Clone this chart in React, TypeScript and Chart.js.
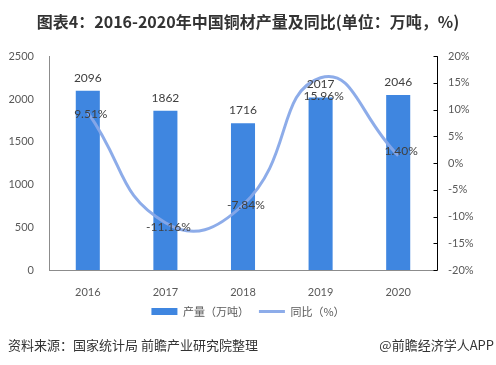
import { useEffect, useRef } from "react";
import { Chart, registerables } from "chart.js";

Chart.register(...registerables);

const categories = ["2016", "2017", "2018", "2019", "2020"];
const outputValues = [2096, 1862, 1716, 2017, 2046];
const yoyValues = [9.51, -11.16, -7.84, 15.96, 1.4];
const yoyLabels = ["9.51%", "-11.16%", "-7.84%", "15.96%", "1.40%"];
const yoyLabelDy = [2, 4, 0, 18, -4];
const titleText = "图表4：2016-2020年中国铜材产量及同比(单位：万吨，%)";
const sourceText = "资料来源：国家统计局 前瞻产业研究院整理";
const brandText = "@前瞻经济学人APP";

const CJK = "'Noto Sans CJK SC', 'Noto Sans', sans-serif";
const NUM = "Lato, 'Noto Sans CJK SC', sans-serif";

const labelsPlugin = {
  id: "valueLabels",
  afterDatasetsDraw(chart: any) {
    const ctx = chart.ctx;
    ctx.save();
    ctx.textAlign = "center";
    ctx.textBaseline = "middle";
    ctx.fillStyle = "#404040";
    ctx.font = `12px ${NUM}`;
    const barMeta = chart.getDatasetMeta(0);
    barMeta.data.forEach((el: any, i: number) => {
      ctx.fillText(String(outputValues[i]), el.x, el.y - 13);
    });
    const lineMeta = chart.getDatasetMeta(1);
    lineMeta.data.forEach((el: any, i: number) => {
      ctx.fillText(yoyLabels[i], el.x + 3, el.y + yoyLabelDy[i]);
    });
    ctx.restore();
  },
  afterDraw(chart: any) {
    const ctx = chart.ctx;
    const s = chart.scales.y1;
    ctx.save();
    ctx.strokeStyle = "#000000";
    ctx.lineWidth = 1;
    const x = Math.round(s.left) + 0.5;
    ctx.beginPath();
    ctx.moveTo(x, s.top);
    ctx.lineTo(x, s.bottom);
    s.ticks.forEach((t: any) => {
      const y = Math.round(s.getPixelForValue(t.value)) + 0.5;
      ctx.moveTo(x - 4, y);
      ctx.lineTo(x, y);
    });
    ctx.stroke();
    ctx.fillStyle = "#333333";
    ctx.font = `13px ${CJK}`;
    ctx.textBaseline = "middle";
    ctx.textAlign = "left";
    ctx.fillText(sourceText, 8, 345);
    ctx.textAlign = "right";
    ctx.fillText(brandText, 494, 345);
    ctx.restore();
  },
};

export default function App() {
  const ref = useRef<HTMLCanvasElement | null>(null);
  useEffect(() => {
    if (!ref.current) return;
    const chart = new Chart(ref.current, {
      type: "bar",
      data: {
        labels: categories,
        datasets: [
          {
            type: "bar",
            label: "产量（万吨）",
            data: outputValues,
            backgroundColor: "#3f86e0",
            borderColor: "#3f86e0",
            borderWidth: 0,
            yAxisID: "y",
            order: 1,
            barPercentage: 0.31,
            categoryPercentage: 1,
          } as any,
          {
            type: "line",
            label: "同比（%）",
            data: yoyValues,
            borderColor: "rgba(135,168,232,0.95)",
            backgroundColor: "rgba(135,168,232,0.95)",
            borderWidth: 3,
            tension: 0.5,
            pointRadius: 0,
            yAxisID: "y1",
            order: 0,
          } as any,
        ],
      },
      options: {
        responsive: false,
        animation: false,
        layout: { padding: { top: 0, bottom: 38, left: 0, right: 0 } },
        plugins: {
          title: {
            display: true,
            text: titleText,
            color: "#333333",
            font: { size: 16, weight: "bold", family: CJK },
            padding: { top: 12, bottom: 25 },
          },
          legend: {
            position: "bottom",
            labels: {
              color: "#595959",
              font: { size: 11, family: CJK },
              boxWidth: 26,
              boxHeight: 7,
              usePointStyle: true,
              pointStyleWidth: 26,
              padding: 10,
              sort: (a: any, b: any) => a.datasetIndex - b.datasetIndex,
              generateLabels(chart: any) {
                const items = Chart.defaults.plugins.legend.labels.generateLabels(chart);
                return items.map((it: any) => {
                  const isBar = it.datasetIndex === 0;
                  return {
                    ...it,
                    pointStyle: isBar ? "rect" : "line",
                    lineWidth: isBar ? 0 : 3,
                    fillStyle: isBar ? "#3f86e0" : "rgba(135,168,232,0.95)",
                    strokeStyle: isBar ? "#3f86e0" : "rgba(135,168,232,0.95)",
                  };
                });
              },
            },
          },
          tooltip: { enabled: false },
        },
        scales: {
          x: {
            grid: { display: false },
            border: { display: true, color: "#8c8c8c" },
            ticks: { color: "#595959", font: { size: 11, family: NUM }, padding: 8 },
            afterFit(scale: any) {
              scale.height = 26;
            },
          },
          y: {
            position: "left",
            min: 0,
            max: 2500,
            grid: { display: false, drawTicks: false },
            border: { display: true, color: "#8c8c8c" },
            ticks: {
              stepSize: 500,
              color: "#595959",
              font: { size: 11, family: NUM },
              padding: 15,
              callback: (v: any) => String(v),
            },
            afterFit(scale: any) {
              scale.width = 49;
            },
          },
          y1: {
            position: "right",
            min: -20,
            max: 20,
            grid: { display: false, drawTicks: false },
            border: { display: false },
            ticks: {
              stepSize: 5,
              color: "#595959",
              font: { size: 11, family: NUM },
              padding: 11,
              callback: (v: any) => `${v}%`,
            },
            afterFit(scale: any) {
              scale.width = 59;
            },
          },
        },
      },
      plugins: [labelsPlugin],
    });
    return () => chart.destroy();
  }, []);
  return (
    <div style={{ position: "fixed", left: 0, top: 0, width: 496, height: 365, background: "#ffffff" }}>
      <canvas ref={ref} width={496} height={365} />
    </div>
  );
}
